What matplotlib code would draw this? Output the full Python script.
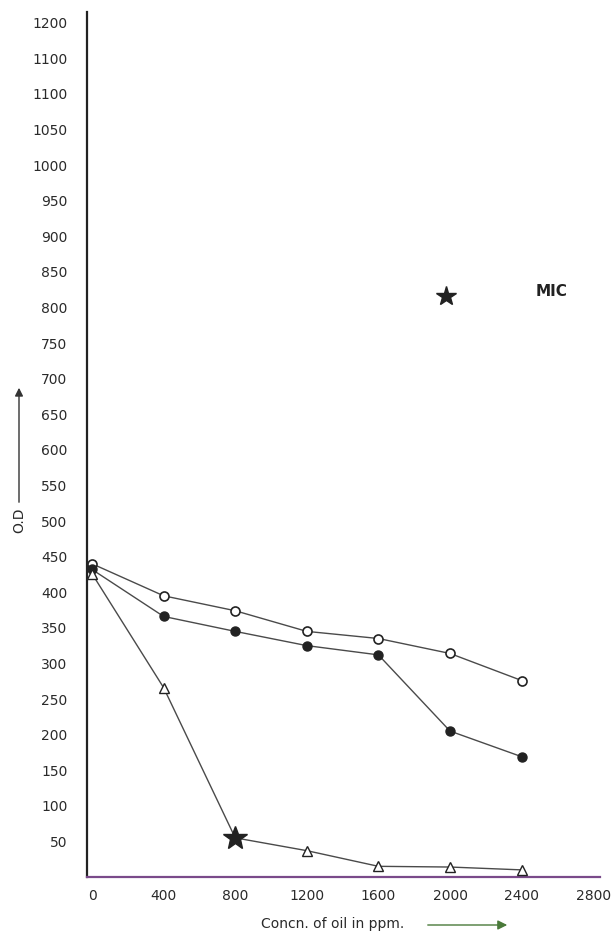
import numpy as np
import matplotlib.pyplot as plt

plt.rcParams['font.family'] = ['DejaVu Sans']

# concentration of oil (ppm)
conc = [0, 400, 800, 1200, 1600, 2000, 2400]
# O.D readings for the three series
od_open = [440, 395, 374, 345, 335, 314, 276]
od_filled = [432, 366, 345, 325, 312, 205, 169]
od_triangle = [426, 266, 55, 37, 15, 14, 10]
mic_index = 2  # point on triangle series marked with a star

# legend star for MIC
mic_star = (1980, 816)

xticks = [0, 400, 800, 1200, 1600, 2000, 2400, 2800]
xtick_labels = ["0", "400", "800", "1200", "1600", "2000", "2400", "2800"]
ytick_vals = list(range(50, 1201, 50))
ytick_labels = [str(v) for v in ytick_vals]
ytick_labels[-2] = "1100"  # as printed on the original

line_col = '#4a4a4a'

fig = plt.figure(figsize=(6.11, 9.34), dpi=100)
ax = fig.add_axes([87 / 611, 57 / 934, (600 - 87) / 611, (877 - 12) / 934])

ax.plot(conc, od_open, color=line_col, lw=1.0, marker='o', ms=6.5,
        mfc='white', mec='#222222', mew=1.2, zorder=3)
ax.plot(conc, od_filled, color=line_col, lw=1.0, marker='o', ms=6.5,
        mfc='#222222', mec='#222222', zorder=3)
ax.plot(conc, od_triangle, color=line_col, lw=1.0, zorder=2)
tri_x = [c for i, c in enumerate(conc) if i != mic_index]
tri_y = [v for i, v in enumerate(od_triangle) if i != mic_index]
ax.plot(tri_x, tri_y, ls='none', marker='^', ms=7, mfc='white',
        mec='#222222', mew=1.0, zorder=3)
ax.plot(conc[mic_index], od_triangle[mic_index], marker='*', ms=18,
        color='#222222', ls='none', zorder=4)

ax.plot(*mic_star, marker='*', ms=15, color='#222222', ls='none')
ax.text(2480, 822, "MIC", fontsize=11, fontweight='bold', color='#222222',
        va='center', ha='left')

ax.set_xlim(-28, 2838)
ax.set_ylim(0, 1215)
ax.set_xticks(xticks)
ax.set_xticklabels(xtick_labels)
ax.set_yticks(ytick_vals)
ax.set_yticklabels(ytick_labels)
ax.tick_params(length=0, labelsize=10, colors='#2a2a2a')
ax.tick_params(axis='y', pad=14)
ax.tick_params(axis='x', pad=9)

for s in ['top', 'right']:
    ax.spines[s].set_visible(False)
ax.spines['left'].set_color('#222222')
ax.spines['left'].set_linewidth(1.6)
ax.spines['bottom'].set_color('#7a4a8a')
ax.spines['bottom'].set_linewidth(1.6)

# axis labels with hand-drawn style arrows
fig.text(19 / 611, 1 - 520 / 934, "O.D", rotation=90, ha='center',
         va='center', fontsize=10, color='#2a2a2a')
fig.add_artist(plt.matplotlib.patches.FancyArrowPatch(
    (19 / 611, 1 - 505 / 934), (19 / 611, 1 - 385 / 934),
    transform=fig.transFigure, arrowstyle='-|>', mutation_scale=12,
    color='#333333', lw=1.0))
fig.text(333 / 611, 1 - 924 / 934, "Concn. of oil in ppm.", ha='center',
         va='center', fontsize=10, color='#2a2a2a')
fig.add_artist(plt.matplotlib.patches.FancyArrowPatch(
    (425 / 611, 1 - 925 / 934), (510 / 611, 1 - 925 / 934),
    transform=fig.transFigure, arrowstyle='-|>', mutation_scale=14,
    color='#4a7a3a', lw=1.0))

fig.savefig("out.png", dpi=100)
